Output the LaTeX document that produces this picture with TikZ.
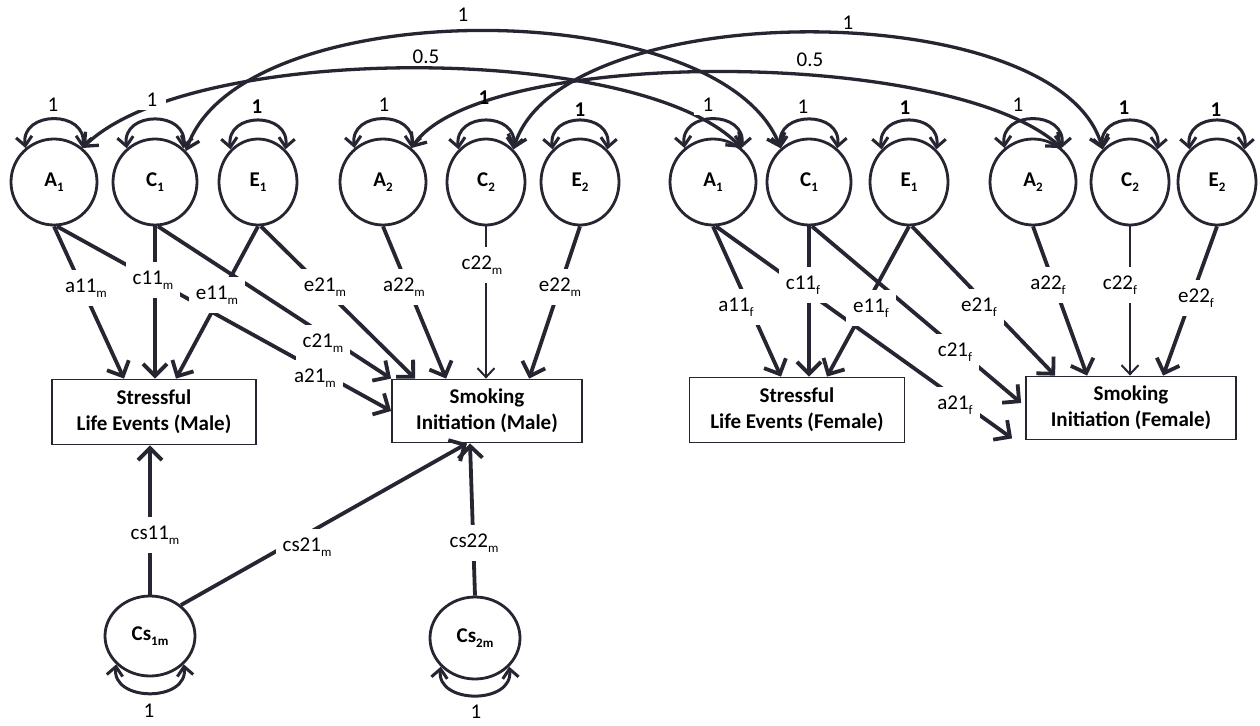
\documentclass[tikz,border=0pt]{standalone}
\usepackage{fontspec}
\setmainfont{Carlito}
\usetikzlibrary{arrows.meta,shapes.geometric,calc}
\definecolor{semdark}{RGB}{38,38,50}
\newcommand\semsub[1]{\raisebox{-0.45ex}{\fontsize{13}{13}\selectfont #1}}
\newcommand\semfs{\fontsize{21}{26}\selectfont}
\newcommand\semtoploop[1]{\draw[loopst] (#1.130) .. controls +(-5,-38) and +(5,-38) .. (#1.50);}
\newcommand\sembotloop[1]{\draw[loopst] (#1.220) .. controls +(-5,38) and +(5,38) .. (#1.320);}
\begin{document}
\begin{tikzpicture}[x=1pt,y=-1pt,font=\semfs,
  lat/.style={ellipse,draw=semdark,line width=2.8pt,minimum height=86pt,inner sep=0pt,font=\semfs\bfseries},
  obs/.style={rectangle,draw=semdark,line width=1.8pt,align=center,inner sep=0pt,font=\semfs\bfseries},
  pth/.style={semdark,line width=3.8pt,-{Straight Barb[length=12pt,width=24pt]}},
  thinpth/.style={semdark,line width=2pt,-{Straight Barb[length=9pt,width=17pt]}},
  cov/.style={semdark,line width=3.3pt,{Straight Barb[length=11pt,width=19pt]}-{Straight Barb[length=11pt,width=19pt]}},
  loopst/.style={semdark,line width=3pt,{Straight Barb[length=9pt,width=16pt]}-{Straight Barb[length=9pt,width=16pt]}},
  lbl/.style={fill=white,inner xsep=7pt,inner ysep=9pt},
  num/.style={inner sep=2pt},
  wnum/.style={fill=white,inner xsep=9pt,inner ysep=3pt}
]
\fill[white] (0,0) rectangle (1260,725);
\useasboundingbox (0,0) rectangle (1260,725);

% latent variables, male
\node[lat,minimum width=86pt] (A1m) at (54,182) {A\semsub{1}};
\node[lat,minimum width=84pt] (C1m) at (155,182) {C\semsub{1}};
\node[lat,minimum width=78pt] (E1m) at (258,182) {E\semsub{1}};
\node[lat,minimum width=86pt] (A2m) at (383,182) {A\semsub{2}};
\node[lat,minimum width=78pt] (C2m) at (486,182) {C\semsub{2}};
\node[lat,minimum width=78pt] (E2m) at (580,182) {E\semsub{2}};
% latent variables, female
\node[lat,minimum width=86pt] (A1f) at (713,182) {A\semsub{1}};
\node[lat,minimum width=84pt] (C1f) at (809,182) {C\semsub{1}};
\node[lat,minimum width=78pt] (E1f) at (909,182) {E\semsub{1}};
\node[lat,minimum width=86pt] (A2f) at (1033,182) {A\semsub{2}};
\node[lat,minimum width=78pt] (C2f) at (1130,182) {C\semsub{2}};
\node[lat,minimum width=78pt] (E2f) at (1217,182) {E\semsub{2}};

% observed
\node[obs,minimum width=204pt,minimum height=65pt] (SLm) at (154,412) {Stressful\\Life Events (Male)};
\node[obs,minimum width=190pt,minimum height=63pt] (SIm) at (487,411) {Smoking\\Initiation (Male)};
\node[obs,minimum width=215pt,minimum height=65pt] (SLf) at (797,410) {Stressful\\Life Events (Female)};
\node[obs,minimum width=210pt,minimum height=63pt] (SIf) at (1131,408) {Smoking\\Initiation (Female)};

% sex-specific latent
\node[lat,minimum width=90pt,minimum height=80pt] (Cs1) at (150,636) {Cs\semsub{1m}};
\node[lat,minimum width=90pt,minimum height=82pt] (Cs2) at (475,638) {Cs\semsub{2m}};

% self loops
\semtoploop{A1m}\semtoploop{C1m}\semtoploop{E1m}\semtoploop{A2m}\semtoploop{C2m}\semtoploop{E2m}
\semtoploop{A1f}\semtoploop{C1f}\semtoploop{E1f}\semtoploop{A2f}\semtoploop{C2f}\semtoploop{E2f}
\sembotloop{Cs1}\sembotloop{Cs2}

% covariances across sexes
\draw[cov] (C1m.45) .. controls (240,-8) and (720,-8) .. (C1f.130);
\draw[cov] (A1m.50) .. controls (190,42) and (640,42) .. (A1f.50);
\draw[cov] (C2m.50) .. controls (560,-6) and (1060,-6) .. (C2f.130);
\draw[cov] (A2m.50) .. controls (480,47) and (950,47) .. (A2f.50);

% paths, male
\draw[pth] (A1m.south) -- ($(SLm.north)+(-30,0)$);
\draw[pth] ($(A1m.south)+(3,0)$) -- (SIm.west);
\draw[pth] (C1m.south) -- (C1m.south |- SLm.north);
\draw[pth] ($(C1m.south)+(3,0)$) -- (SIm.north west);
\draw[pth] (E1m.south) -- ($(SLm.north)+(22,0)$);
\draw[pth] ($(E1m.south)+(3,0)$) -- ($(SIm.north west)+(24,0)$);
\draw[pth] (A2m.south) -- ($(SIm.north west)+(55,0)$);
\draw[thinpth] (C2m.south) -- (C2m.south |- SIm.north);
\draw[pth] (E2m.south) -- ($(SIm.north west)+(138,0)$);
% paths, female
\draw[pth] (A1f.south) -- ($(SLf.north)+(-16,0)$);
\draw[pth] ($(A1f.south)+(3,0)$) -- ($(SIf.south west)+(-13,-2)$);
\draw[pth] (C1f.south) -- (C1f.south |- SLf.north);
\draw[pth] ($(C1f.south)+(3,0)$) -- ($(SIf.west)+(-4,-5)$);
\draw[pth] (E1f.south) -- ($(SLf.north)+(30,0)$);
\draw[pth] ($(E1f.south)+(3,0)$) -- ($(SIf.north west)+(30,0)$);
\draw[pth] (A2f.south) -- ($(SIf.north west)+(62,0)$);
\draw[thinpth] (C2f.south) -- (C2f.south |- SIf.north);
\draw[pth] (E2f.south) -- ($(SIf.north west)+(138,0)$);
% sex-specific paths
\draw[pth] (Cs1.north) -- (Cs1.north |- SLm.south);
\draw[pth] (Cs1.45) -- ($(SIm.south)+(-20,0)$);
\draw[pth] (Cs2.north) -- ($(SIm.south)+(-17,0)$);

% labels on covariances
\node[num] (t1a) at (463,15) {1};
\node[num] (t05a) at (426,57) {0.5};
\node[num] (t1b) at (848,23) {1};
\node[num] (t05b) at (810,60) {0.5};

% loop labels
\node[num] (vA1m) at (53,105) {1};
\node[wnum] (vC1m) at (152,100) {1};
\node[num,font=\semfs\bfseries] (vE1m) at (257,107) {1};
\node[num] (vA2m) at (384,105) {1};
\node[num,font=\semfs\bfseries] (vC2m) at (484,98) {1};
\node[num,font=\semfs\bfseries] (vE2m) at (580,110) {1};
\node[wnum] (vA1f) at (708,105) {1};
\node[num] (vC1f) at (803,107) {1};
\node[num,font=\semfs\bfseries] (vE1f) at (905,108) {1};
\node[num] (vA2f) at (1018,105) {1};
\node[num,font=\semfs\bfseries] (vC2f) at (1124,108) {1};
\node[num,font=\semfs\bfseries] (vE2f) at (1216,110) {1};
\node[num] (vCs1) at (149,711) {1};
\node[num] (vCs2) at (476,712) {1};

% path labels, male
\node[lbl] (la11m) at (86,288) {a11\semsub{m}};
\node[lbl] (lc11m) at (153,280) {c11\semsub{m}};
\node[lbl] (le11m) at (217,295) {e11\semsub{m}};
\node[lbl] (le21m) at (325,287) {e21\semsub{m}};
\node[lbl] (la22m) at (404,287) {a22\semsub{m}};
\node[lbl] (lc22m) at (482,265) {c22\semsub{m}};
\node[lbl] (le22m) at (560,287) {e22\semsub{m}};
\node[lbl] (lc21m) at (323,343) {c21\semsub{m}};
\node[lbl] (la21m) at (315,378) {a21\semsub{m}};
% path labels, female
\node[lbl] (la11f) at (736,307) {a11\semsub{f}};
\node[lbl] (lc11f) at (803,285) {c11\semsub{f}};
\node[lbl] (le11f) at (871,308) {e11\semsub{f}};
\node[lbl] (le21f) at (979,307) {e21\semsub{f}};
\node[lbl] (la22f) at (1048,285) {a22\semsub{f}};
\node[lbl] (lc22f) at (1120,285) {c22\semsub{f}};
\node[lbl] (le22f) at (1196,298) {e22\semsub{f}};
\node[lbl] (lc21f) at (955,352) {c21\semsub{f}};
\node[lbl] (la21f) at (955,405) {a21\semsub{f}};
% sex-specific labels
\node[lbl] (lcs11) at (155,535) {cs11\semsub{m}};
\node[lbl] (lcs21) at (307,547) {cs21\semsub{m}};
\node[lbl] (lcs22) at (474,543) {cs22\semsub{m}};
\end{tikzpicture}
\end{document}
